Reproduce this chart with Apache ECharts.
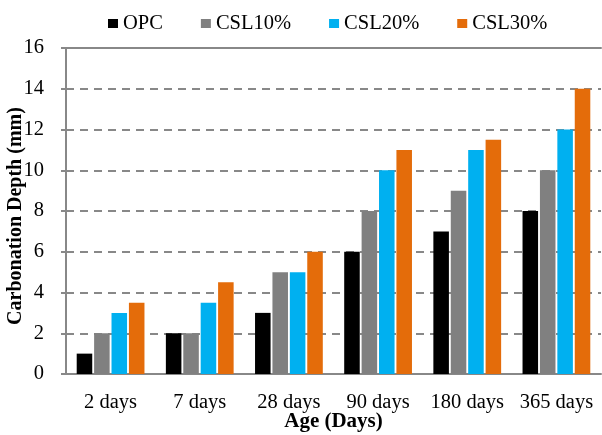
<!DOCTYPE html>
<html>
<head>
<meta charset="utf-8">
<script src="https://cdn.jsdelivr.net/npm/echarts@6/dist/echarts.min.js"></script>
<style>
  html, body { margin: 0; padding: 0; background: #fff; }
  #chart { width: 602px; height: 435px; }
</style>
</head>
<body>
<div id="chart"></div>
<script>
// values
const ages = ['2 days', '7 days', '28 days', '90 days', '180 days', '365 days'];
const opc = [1, 2, 3, 6, 7, 8];
const csl10 = [2, 2, 5, 8, 9, 10];
const csl20 = [3, 3.5, 5, 10, 11, 12];
const csl30 = [3.5, 4.5, 6, 11, 11.5, 14];

const seriesNames = ['OPC', 'CSL10%', 'CSL20%', 'CSL30%'];
const seriesColors = ['#000000', '#808080', '#00B0F0', '#E46C0A'];
const seriesData = [opc, csl10, csl20, csl30];

const font = '"Liberation Serif", "Times New Roman", serif';

const myChart = echarts.init(document.getElementById('chart'));

const series = seriesNames.map((name, i) => ({
  name: name,
  type: 'bar',
  data: seriesData[i],
  itemStyle: { color: seriesColors[i] },
  barGap: '12%',
  barCategoryGap: '24%'
}));

const option = {
  animation: false,
  backgroundColor: '#fff',
  textStyle: { fontFamily: font },
  legend: {
    top: 8,
    left: 103,
    itemWidth: 10,
    itemHeight: 9,
    itemGap: 38,
    icon: 'rect',
    textStyle: { fontFamily: font, fontSize: 20.5, color: '#000' },
    data: seriesNames
  },
  grid: {
    left: 66,
    right: 1,
    top: 48,
    bottom: 61,
    outerBoundsMode: 'none',
    containLabel: false
  },
  xAxis: [{
    type: 'category',
    data: ages,
    name: 'Age (Days)',
    nameLocation: 'middle',
    nameGap: 37,
    nameMoveOverlap: false,
    nameTextStyle: { fontFamily: font, fontSize: 21, fontWeight: 'bold', color: '#000' },
    axisLine: { lineStyle: { color: '#888', width: 2 } },
    axisTick: { show: false },
    axisLabel: { interval: 0, fontFamily: font, fontSize: 20.5, color: '#000', margin: 18 }
  }, {
    type: 'category',
    data: ages,
    position: 'top',
    axisLine: { lineStyle: { color: '#888', width: 2 } },
    axisTick: { show: false },
    axisLabel: { show: false }
  }],
  yAxis: {
    type: 'value',
    min: 0,
    max: 16,
    interval: 2,
    name: 'Carbonation Depth (mm)',
    nameLocation: 'middle',
    nameGap: 40,
    nameMoveOverlap: false,
    nameTextStyle: { fontFamily: font, fontSize: 20, fontWeight: 'bold', color: '#000', padding: [0, 10, 0, 0] },
    axisLine: { show: true, lineStyle: { color: '#888', width: 2 } },
    axisTick: { show: true, length: 5, lineStyle: { color: '#888', width: 2 } },
    axisLabel: { fontFamily: font, fontSize: 20.5, color: '#000', margin: 22 },
    splitLine: {
      show: true,
      lineStyle: { color: '#888', width: 2, type: [8, 6] }
    }
  },
  series: series
};

myChart.setOption(option);
</script>
</body>
</html>
